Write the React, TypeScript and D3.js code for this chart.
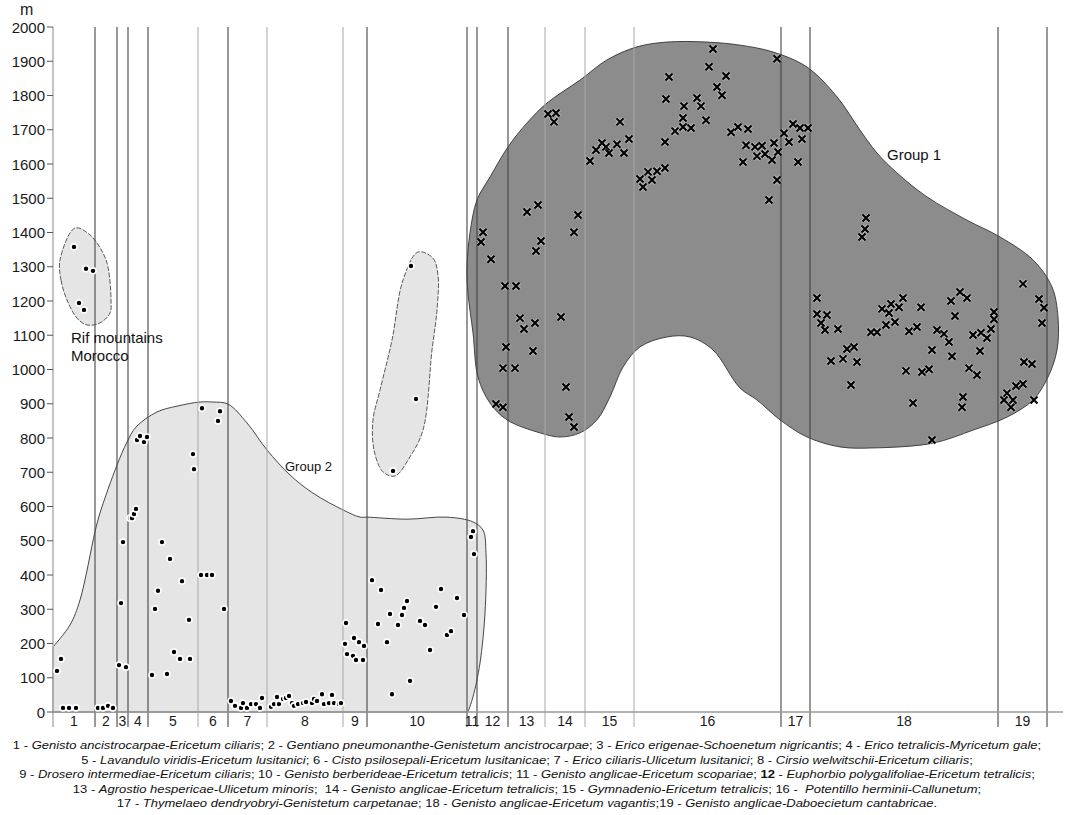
import React, { useRef, useEffect } from "react"
import * as d3 from "d3"

// altitude ticks (m)
const yTicks = [0, 100, 200, 300, 400, 500, 600, 700, 800, 900, 1000, 1100, 1200, 1300, 1400, 1500, 1600, 1700, 1800, 1900, 2000]

// relevé ordering axis: borders between associations (position units)
const borders = [42, 64, 75, 95, 145, 175, 214, 290, 314, 414, 424, 455, 492, 532, 581, 728, 757, 945, 994]
const borderDark = [1, 1, 1, 1, 0, 1, 0, 0, 1, 1, 1, 1, 0, 0, 0, 1, 1, 1, 1]
const assocLabels = ["1", "2", "3", "4", "5", "6", "7", "8", "9", "10", "11", "12", "13", "14", "15", "16", "17", "18", "19"]
const axisEnd = 1010

// relevés of group 2 and the Rif / upper outliers: [position, altitude]
const dots = [
  [4, 120], [8, 155], [10, 12], [16, 12], [23, 12],
  [21, 1358], [33, 1294], [40, 1288], [26, 1194], [31, 1174],
  [45, 12], [50, 12], [55, 18], [60, 12],
  [66, 137], [73, 131], [68, 318], [70, 496],
  [77, 566], [79, 566], [81, 578], [83, 593], [84, 794], [87, 806], [91, 788], [94, 803],
  [99, 108], [102, 301], [105, 354], [109, 496], [114, 111], [117, 447], [121, 175], [127, 155], [129, 382], [136, 269], [137, 155], [140, 753], [141, 709],
  [149, 887], [148, 400], [154, 400], [159, 400], [165, 850], [167, 878], [171, 301],
  [178, 32], [182, 18], [188, 12], [190, 26], [194, 12], [198, 23], [203, 23], [207, 12], [209, 41],
  [218, 15], [221, 23], [224, 44], [226, 23], [230, 38], [233, 41], [236, 47], [239, 26], [241, 18], [245, 23], [250, 26], [253, 29], [259, 26], [261, 38], [264, 32], [269, 52], [271, 23], [276, 26], [279, 50], [281, 26], [286, 23], [288, 26],
  [293, 260], [292, 199], [294, 169], [300, 164], [301, 216], [303, 152], [306, 204], [310, 152], [311, 193],
  [319, 385], [325, 257], [328, 356], [334, 204], [337, 286], [339, 52], [345, 254], [349, 283], [351, 304], [354, 324], [357, 91], [367, 266], [372, 254], [377, 181], [383, 307], [388, 359], [394, 225], [398, 236], [404, 333], [411, 283],
  [363, 914], [340, 704], [358, 1302],
  [418, 511], [420, 528], [421, 461],
]

// relevés of group 1
const crosses = [
  [660, 1936], [656, 1884], [673, 1857], [616, 1854], [664, 1825], [669, 1801], [613, 1790], [644, 1793], [631, 1769], [648, 1769],
  [630, 1734], [653, 1728], [630, 1708], [638, 1705], [622, 1696], [612, 1664], [567, 1723], [576, 1673], [571, 1632], [564, 1658],
  [549, 1661], [553, 1650], [556, 1632], [543, 1641], [537, 1609], [495, 1746], [503, 1749], [501, 1723], [612, 1588], [604, 1579],
  [595, 1577], [599, 1553], [587, 1556], [590, 1533], [678, 1693], [685, 1708], [695, 1702], [693, 1655], [702, 1650], [690, 1606],
  [704, 1623], [474, 1460], [485, 1480], [525, 1451], [521, 1401], [430, 1401], [428, 1372], [438, 1322], [488, 1375], [483, 1346],
  [452, 1244], [463, 1244], [467, 1150], [471, 1118], [482, 1136], [508, 1153], [453, 1066], [480, 1054], [450, 1004], [462, 1004],
  [513, 949], [443, 899], [450, 890], [516, 861], [521, 832],
  [724, 1907], [709, 1653], [712, 1629], [719, 1612], [721, 1661], [725, 1635], [724, 1553], [716, 1495], [731, 1690], [736, 1664],
  [740, 1717], [747, 1705], [755, 1705], [749, 1673], [745, 1606], [813, 1442], [812, 1410], [809, 1387], [764, 1209], [764, 1162],
  [774, 1159], [768, 1136], [772, 1115], [785, 1118], [794, 1060], [801, 1066], [778, 1025], [790, 1031], [804, 1022], [798, 955],
  [818, 1109], [824, 1109], [829, 1177], [833, 1130], [836, 1165], [838, 1191], [842, 1139], [846, 1182], [850, 1209], [868, 1182],
  [856, 1112], [864, 1124], [853, 996], [869, 993], [876, 1001], [860, 902], [879, 794], [879, 1057], [884, 1115], [891, 1104],
  [896, 1080], [899, 1039], [898, 1200], [907, 1226], [914, 1209], [902, 1156], [910, 920], [909, 890], [916, 1004], [924, 984],
  [920, 1101], [928, 1107], [934, 1092], [927, 1054], [938, 1118], [941, 1147], [941, 1168], [970, 1250], [986, 1206], [991, 1180],
  [989, 1136], [971, 1022], [979, 1016], [963, 952], [970, 958], [954, 931], [951, 911], [960, 911], [958, 890], [981, 911],
]

// outlines of the groups
const hullGroup1 = [
  [414, 1299], [417, 1399], [424, 1495], [437, 1562], [455, 1650], [474, 1720], [494, 1778], [527, 1845], [554, 1904], [584, 1942],
  [614, 1956], [654, 1956], [687, 1947], [720, 1927], [754, 1883], [784, 1796], [807, 1699], [824, 1632], [844, 1574], [874, 1504],
  [914, 1436], [947, 1387], [980, 1320], [999, 1241], [1005, 1153], [1004, 1057], [995, 978], [980, 911], [954, 861], [920, 823],
  [880, 785], [820, 771], [787, 774], [754, 803], [727, 853], [704, 911], [687, 946], [660, 1057], [637, 1095], [614, 1095],
  [587, 1066], [570, 1007], [557, 920], [544, 853], [527, 815], [507, 803], [487, 815], [454, 853], [437, 902], [425, 978],
  [420, 1107], [415, 1223],
]
const hullGroup2Top = [
  [0, 190], [17, 254], [27, 327], [42, 526], [47, 581], [64, 721], [74, 788], [83, 832], [104, 876], [124, 893],
  [147, 905], [160, 905], [175, 899], [194, 844], [214, 765], [237, 692], [260, 639], [290, 590], [307, 569], [314, 569],
  [354, 563], [394, 569], [420, 555], [430, 531], [433, 464], [432, 289], [427, 143], [420, 44], [415, 0],
]
const hullRif = [
  [7, 1320], [8, 1261], [14, 1203], [24, 1150], [34, 1130], [47, 1136], [57, 1165], [58, 1203], [55, 1299], [50, 1340],
  [37, 1393], [22, 1413],
]
const hullUpper = [
  [365, 1343], [380, 1325], [385, 1276], [384, 1174], [379, 1057], [370, 823], [357, 745], [342, 689], [330, 701], [321, 765],
  [320, 853], [327, 940], [339, 1086], [350, 1261],
]

const captionLines = [
  [["1", "Genisto ancistrocarpae-Ericetum ciliaris", "; "], ["2", "Gentiano pneumonanthe-Genistetum ancistrocarpae", "; "], ["3", "Erico erigenae-Schoenetum nigricantis", "; "], ["4", "Erico tetralicis-Myricetum gale", ";"]],
  [["5", "Lavandulo viridis-Ericetum lusitanici", "; "], ["6", "Cisto psilosepali-Ericetum lusitanicae", "; "], ["7", "Erico ciliaris-Ulicetum lusitanici", "; "], ["8", "Cirsio welwitschii-Ericetum ciliaris", ";"]],
  [["9", "Drosero intermediae-Ericetum ciliaris", "; "], ["10", "Genisto berberideae-Ericetum tetralicis", "; "], ["11", "Genisto anglicae-Ericetum scopariae", "; "], ["12", "Euphorbio polygalifoliae-Ericetum tetralicis", ";"]],
  [["13", "Agrostio hespericae-Ulicetum minoris", ";  "], ["14", "Genisto anglicae-Ericetum tetralicis", "; "], ["15", "Gymnadenio-Ericetum tetralicis", "; "], ["16", " Potentillo herminii-Callunetum", ";"]],
  [["17", "Thymelaeo dendryobryi-Genistetum carpetanae", "; "], ["18", "Genisto anglicae-Ericetum vagantis", ";"], ["19", "Genisto anglicae-Daboecietum cantabricae", "."]],
]
const boldNumbers = ["12"]

const W = 1071
const H = 815
const FONT = "'Liberation Sans', Arial, sans-serif"

const App = () => {
  const ref = useRef<SVGSVGElement>(null)

  useEffect(() => {
    const svg = d3.select(ref.current)
    svg.selectAll("*").remove()

    const x = d3.scaleLinear().domain([0, axisEnd]).range([53, 1063])
    const y = d3.scaleLinear().domain([0, 2000]).range([712, 27])

    const closed = d3.line<number[]>().x(d => x(d[0])).y(d => y(d[1])).curve(d3.curveCatmullRomClosed.alpha(0.5))
    const open = d3.line<number[]>().x(d => x(d[0])).y(d => y(d[1])).curve(d3.curveCatmullRom.alpha(0.5))

    // group outlines
    svg.append("path").attr("d", closed(hullGroup1))
      .attr("fill", "#8c8c8c").attr("stroke", "#333").attr("stroke-width", 0.9)
    svg.append("path")
      .attr("d", open(hullGroup2Top) + `L${x(0)},${y(0)}Z`)
      .attr("fill", "#e5e5e5").attr("stroke", "#333").attr("stroke-width", 0.9)
    ;[hullRif, hullUpper].forEach(h => {
      svg.append("path").attr("d", closed(h))
        .attr("fill", "#e5e5e5").attr("stroke", "#333").attr("stroke-width", 0.8)
        .attr("stroke-dasharray", "5,1.5")
    })

    // association borders
    svg.selectAll(".border").data(borders).enter().append("line")
      .attr("x1", d => x(d)).attr("x2", d => x(d))
      .attr("y1", y(2000)).attr("y2", y(0) + 15)
      .attr("stroke", (d, i) => borderDark[i] ? "#444" : "#a8a8a8")
      .attr("stroke-width", (d, i) => borderDark[i] ? 1.1 : 1)

    // axes
    svg.append("line").attr("x1", x(0)).attr("x2", x(0)).attr("y1", y(2000)).attr("y2", y(0) + 15)
      .attr("stroke", "#b0b0b0").attr("stroke-width", 1.5)
    svg.append("line").attr("x1", x(0)).attr("x2", x(axisEnd)).attr("y1", y(0)).attr("y2", y(0))
      .attr("stroke", "#9a9a9a").attr("stroke-width", 1.5)

    const ticks = svg.append("g")
    ticks.selectAll("line").data(yTicks).enter().append("line")
      .attr("x1", x(0) - 6).attr("x2", x(0)).attr("y1", d => y(d)).attr("y2", d => y(d))
      .attr("stroke", "#555").attr("stroke-width", 1)
    ticks.selectAll("text").data(yTicks).enter().append("text")
      .attr("x", x(0) - 8).attr("y", d => y(d) + 5.5)
      .attr("text-anchor", "end").attr("font-family", FONT).attr("font-size", 15).attr("fill", "#1a1a1a")
      .text(d => d)
    svg.append("text").attr("x", 20).attr("y", 15)
      .attr("font-family", FONT).attr("font-size", 16).attr("fill", "#1a1a1a").text("m")

    // association numbers
    const edges = [0, ...borders, axisEnd]
    svg.selectAll(".assoc").data(assocLabels).enter().append("text")
      .attr("x", (d, i) => x((edges[i] + edges[i + 1]) / 2))
      .attr("y", y(0) + 14)
      .attr("text-anchor", "middle").attr("font-family", FONT).attr("font-size", 14).attr("fill", "#1a1a1a")
      .text(d => d)

    // relevés
    svg.selectAll(".dot").data(dots).enter().append("circle")
      .attr("cx", d => x(d[0])).attr("cy", d => y(d[1])).attr("r", 3)
      .attr("fill", "#000").attr("stroke", "#fff").attr("stroke-width", 1.6)
    const s = 3.5
    const crossPath = (d: number[]) => {
      const cx = x(d[0]), cy = y(d[1])
      return `M${cx - s},${cy - s}L${cx + s},${cy + s}M${cx - s},${cy + s}L${cx + s},${cy - s}`
    }
    svg.selectAll(".crossHalo").data(crosses).enter().append("path")
      .attr("d", crossPath).attr("stroke", "#fff").attr("stroke-opacity", 0.35).attr("stroke-width", 4.2).attr("fill", "none")
    svg.selectAll(".cross").data(crosses).enter().append("path")
      .attr("d", crossPath).attr("stroke", "#000").attr("stroke-width", 2.1).attr("fill", "none")

    // group labels
    svg.append("text").attr("x", 887).attr("y", 160).attr("font-family", FONT).attr("font-size", 15).attr("fill", "#111").text("Group 1")
    svg.append("text").attr("x", 285).attr("y", 471).attr("font-family", FONT).attr("font-size", 13).attr("fill", "#111").text("Group 2")
    svg.append("text").attr("x", 71).attr("y", 343).attr("font-family", FONT).attr("font-size", 15).attr("fill", "#111").text("Rif mountains")
    svg.append("text").attr("x", 71).attr("y", 361).attr("font-family", FONT).attr("font-size", 15).attr("fill", "#111").text("Morocco")

    // caption (stretched horizontally like the original)
    const cap = svg.append("g").attr("font-family", FONT).attr("font-size", 11.5).attr("fill", "#111")
    captionLines.forEach((line, li) => {
      const t = cap.append("text")
        .attr("transform", `translate(527,${749 + li * 14.5}) scale(1.13,1)`)
        .attr("text-anchor", "middle").style("white-space", "pre")
      line.forEach(([num, name, sep]) => {
        t.append("tspan").attr("font-weight", boldNumbers.includes(num) ? "bold" : "normal").text(num)
        t.append("tspan").text(" - ")
        t.append("tspan").attr("font-style", "italic").text(name)
        t.append("tspan").text(sep)
      })
    })
  }, [])

  return (
    <div style={{ position: "absolute", left: 0, top: 0, background: "#fff" }}>
      <svg ref={ref} width={W} height={H}></svg>
    </div>
  )
}

export default App
